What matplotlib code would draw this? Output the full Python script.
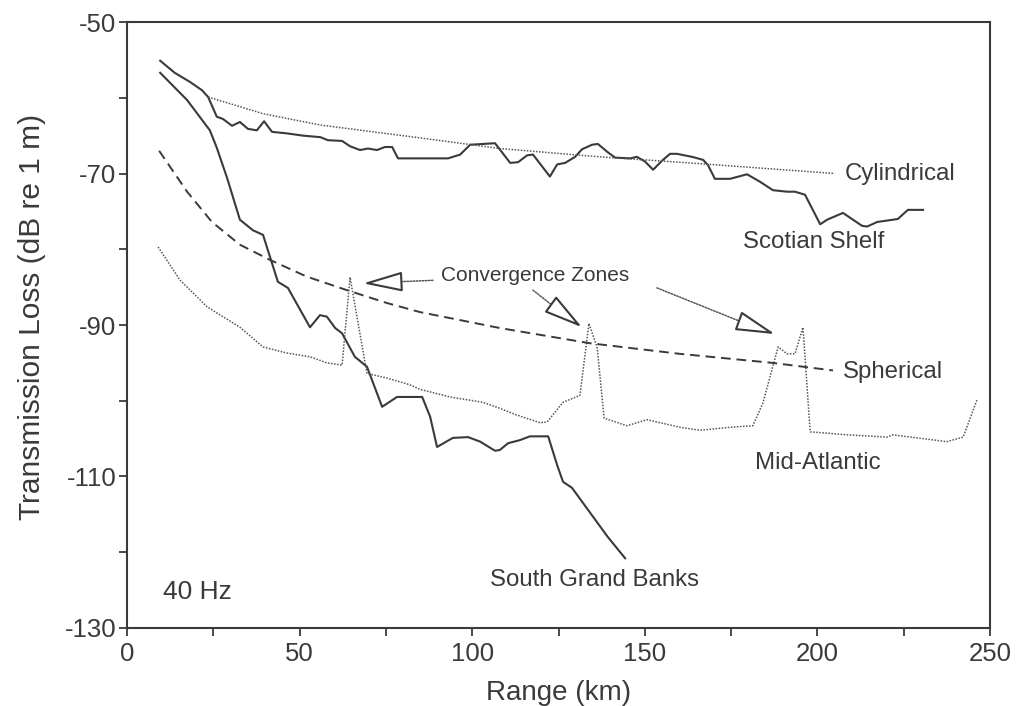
import matplotlib
matplotlib.use("Agg")
import matplotlib.pyplot as plt
from matplotlib.ticker import MultipleLocator, FixedLocator

plt.rcParams['font.family'] = ['Liberation Sans', 'DejaVu Sans']
plt.rcParams['axes.unicode_minus'] = False

# ---- data (range km, transmission loss dB) ----
scotian_r = [9.6, 13.8, 18.2, 21.7, 23.5, 26, 27.8, 30.4, 32.7, 35, 37.6, 39.7, 42, 46.3, 51, 56, 58.2,
             62.3, 64.6, 67.5, 69.8, 72.4, 74.7, 76.8, 78.5, 93, 96.5, 99.4, 106.6, 111, 113.3, 115.9,
             117.6, 122.5, 124.6, 126.9, 129.8, 131.8, 134.7, 136.4, 139.3, 141.4, 145.7, 147.7, 150,
             152.4, 155, 157.3, 159.3, 163.7, 166.9, 168.3, 170.3, 174.7, 179.6, 183.4, 187.1, 191.2,
             193.5, 196.4, 200.8, 202.8, 207.4, 210.3, 212.9, 214.4, 217.3, 223.3, 226.2, 230.6]
scotian_tl = [-55.1, -56.7, -57.9, -59.0, -59.9, -62.5, -62.8, -63.7, -63.2, -64.1, -64.3, -63.1, -64.5,
              -64.7, -65.0, -65.2, -65.6, -65.7, -66.4, -66.9, -66.7, -66.9, -66.5, -66.5, -68.0, -68.0,
              -67.5, -66.2, -66.0, -68.6, -68.5, -67.6, -67.5, -70.4, -68.8, -68.6, -67.8, -66.8, -66.2,
              -66.1, -67.2, -67.9, -68.0, -67.8, -68.4, -69.5, -68.3, -67.4, -67.4, -67.8, -68.2, -68.9,
              -70.7, -70.7, -70.1, -71.1, -72.2, -72.4, -72.4, -72.8, -76.7, -76.1, -75.2, -76.1, -76.9,
              -77.0, -76.4, -76.0, -74.8, -74.8]

sgb_r = [9.6, 17.4, 24, 26, 29, 32.7, 36.5, 39.4, 43.7, 46.6, 53, 55.9, 57.9, 60.3, 62.3, 66, 69.5,
         73.9, 78.2, 85.5, 87.8, 89.8, 94.4, 98.8, 102.3, 106.6, 108, 110.4, 113.8, 116.7, 122, 124.6,
         126.3, 128.9, 139.3, 144.3]
sgb_tl = [-56.7, -60.3, -64.3, -66.6, -70.6, -76.1, -77.5, -78.1, -84.3, -85.1, -90.3, -88.7, -88.9,
          -90.4, -91.1, -94.2, -95.5, -100.8, -99.5, -99.5, -102.1, -106.1, -104.9, -104.8, -105.4,
          -106.6, -106.5, -105.6, -105.2, -104.7, -104.7, -108.5, -110.7, -111.5, -118.0, -120.8]

midatl_r = [9, 15.4, 23.2, 32.7, 39.4, 46.3, 53, 57.9, 62.3, 64.6, 69.5, 75.3, 82, 84.9, 93.6, 103,
            108, 113, 119.6, 121.7, 126.3, 131.2, 133.8, 136.2, 138.2, 144.8, 150.6, 160.2, 166, 174.7,
            181.3, 184.2, 188.6, 191.2, 193.5, 195.8, 197.9, 208.6, 220.2, 221.9, 237.5, 242.2, 246.2]
midatl_tl = [-79.7, -84.1, -87.6, -90.3, -92.9, -93.7, -94.2, -95.0, -95.3, -83.7, -96.4, -97.0, -97.9,
             -98.5, -99.5, -100.2, -101.0, -101.9, -102.9, -102.8, -100.2, -99.3, -89.8, -93.0, -102.3,
             -103.3, -102.5, -103.5, -103.9, -103.5, -103.3, -100.3, -92.9, -93.8, -93.8, -90.3, -104.1,
             -104.5, -104.8, -104.5, -105.4, -104.8, -99.9]

spher_r = [9.3, 17.4, 24.6, 32.7, 41.4, 52, 63.7, 75.3, 84.9, 108, 134, 160, 187, 204.5]
spher_tl = [-67.0, -72.4, -76.4, -79.4, -81.4, -83.6, -85.4, -87.1, -88.3, -90.4, -92.4, -93.8, -95.0, -96.0]

cyl_r = [23.5, 39.4, 56, 85, 108, 137, 166, 205]
cyl_tl = [-59.9, -62.1, -63.6, -65.3, -66.7, -67.8, -68.7, -70.0]

y_labeled_ticks = [-130, -110, -90, -70, -50]
y_minor_ticks = [-120, -100, -80, -60]

# labels: (text, range, TL)
curve_labels = [("Cylindrical", 208, -70.0), ("Scotian Shelf", 178.4, -79.0),
                ("Spherical", 207.4, -96.2), ("Mid-Atlantic", 182, -108.2),
                ("South Grand Banks", 105.2, -123.7)]
freq_label = ("40 Hz", 10.4, -125.2)
cz_text = ("Convergence Zones", 91, -83.4)
# arrows: (line start, triangle base, tip)
cz_arrows = [((88.6, -84.1), (78.2, -84.3), (68.4, -84.5)),
             ((117.6, -85.4), (123.7, -87.6), (131.8, -90.3)),
             ((153.5, -85.1), (178.6, -89.7), (187.7, -91.2))]

ink = '#3a3a3a'
fig = plt.figure(figsize=(10.17, 7.06), dpi=100)
ax = fig.add_axes([0.1249, 0.1105, 0.8486, 0.8583])

ax.plot(scotian_r, scotian_tl, color=ink, lw=1.5)
ax.plot(sgb_r, sgb_tl, color=ink, lw=1.5)
ax.plot(midatl_r, midatl_tl, color='#555555', lw=1.1, ls=(0, (1, 1)))
ax.plot(cyl_r, cyl_tl, color='#555555', lw=1.1, ls=(0, (1, 1)))
ax.plot(spher_r, spher_tl, color=ink, lw=1.4, ls=(0, (5, 3)))

for t, x, y in curve_labels:
    ax.text(x, y, t, fontsize=17.3, color=ink, ha='left', va='center')
ax.text(freq_label[1], freq_label[2], freq_label[0], fontsize=19, color=ink, ha='left', va='center')
ax.text(cz_text[1], cz_text[2], cz_text[0], fontsize=15, color=ink, ha='left', va='center')

for start, base, tip in cz_arrows:
    ax.annotate('', xy=base, xytext=start,
                arrowprops=dict(arrowstyle='-', color='#555555', lw=1.1, ls=(0, (1, 1)),
                                shrinkA=0, shrinkB=0))
    ax.annotate('', xy=tip, xytext=base,
                arrowprops=dict(arrowstyle='-|>,head_length=2.45,head_width=0.62',
                                mutation_scale=10, fc='white', ec=ink, lw=1.5,
                                shrinkA=0, shrinkB=0))

ax.set_xlim(0, 250)
ax.set_ylim(-130, -50)
ax.xaxis.set_major_locator(MultipleLocator(50))
ax.xaxis.set_minor_locator(MultipleLocator(25))
ax.yaxis.set_major_locator(FixedLocator(y_labeled_ticks))
ax.yaxis.set_minor_locator(FixedLocator(y_minor_ticks))
ax.tick_params(which='both', direction='out', length=6, width=1.3, color=ink,
               labelsize=18.5, labelcolor=ink)
ax.tick_params(axis='y', which='both', pad=1.5)
ax.tick_params(axis='x', which='both', pad=4)
for s in ax.spines.values():
    s.set_color(ink)
    s.set_linewidth(1.5)

ax.set_xlabel("Range (km)", fontsize=20, color=ink)
ax.set_ylabel("Transmission Loss (dB re 1 m)", fontsize=21.5, color=ink)
ax.xaxis.set_label_coords(0.5, -0.086)
ax.yaxis.set_label_coords(-0.094, 0.513)

fig.savefig("out.png", dpi=100)
